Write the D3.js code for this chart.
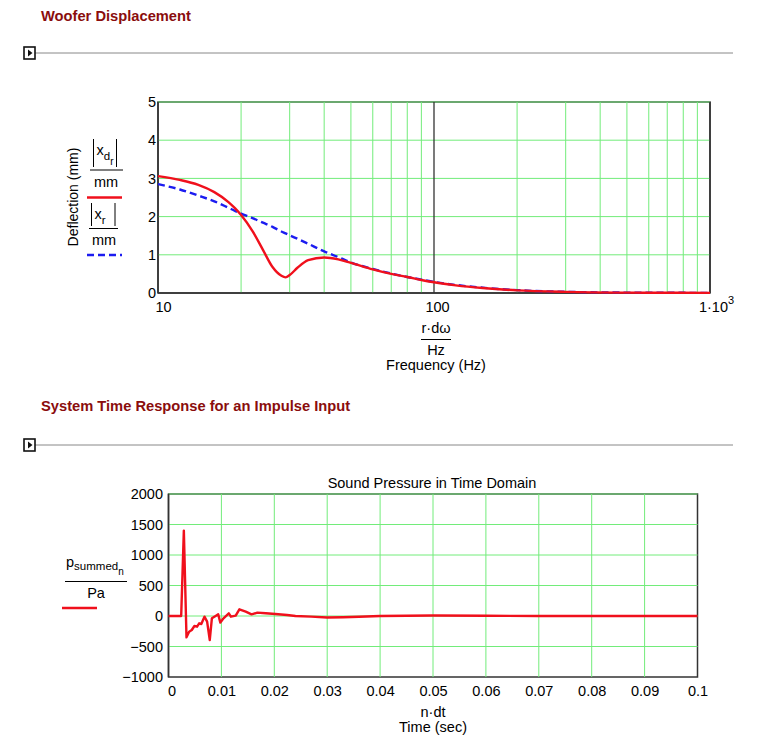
<!DOCTYPE html>
<html><head><meta charset="utf-8">
<script src="https://cdn.jsdelivr.net/npm/d3@7"></script>
<style>
body{margin:0;background:#fff;}
svg{display:block;font-family:"Liberation Sans",Arial,Helvetica,sans-serif;}
</style></head>
<body><svg id="c" width="773" height="750"></svg>
<script>
// ---------- data ----------
const freqHz = [10,12,14,16,18,19,20,22,24,26,28,29,30,32,35,40,45,50,60,70,80,90,100,120,150,200,300,500,700,1000];
const xdMag  = [3.06,2.96,2.83,2.64,2.38,2.22,2.04,1.62,1.13,0.68,0.45,0.41,0.47,0.66,0.86,0.93,0.88,0.79,0.62,0.5,0.42,0.34,0.28,0.2,0.13,0.07,0.03,0.01,0.006,0.003];
const xrMag  = [2.85,2.71,2.55,2.4,2.23,2.15,2.08,1.96,1.84,1.73,1.61,1.56,1.51,1.42,1.29,1.09,0.94,0.8,0.63,0.51,0.42,0.35,0.29,0.21,0.14,0.075,0.03,0.01,0.006,0.003];
const freqTicks = [10,100,1000];
const deflTicks = [0,1,2,3,4,5];

const timeSec = [0,0.0024,0.0029,0.0034,0.0039,0.0044,0.0049,0.0054,0.0058,0.0062,0.0068,0.0073,0.0078,0.0082,0.0089,0.0094,0.0098,0.0104,0.0114,0.0118,0.0127,0.0134,0.0146,0.0157,0.0168,0.0184,0.0202,0.0224,0.024,0.027,0.03,0.033,0.036,0.04,0.045,0.05,0.06,0.07,0.08,0.09,0.1];
const pressure = [0,0,1400,-350,-257,-230,-164,-175,-120,-131,-11,-93,-394,-38,0,27,-109,-38,44,-11,5,110,71,27,55,44,33,16,0,-11,-25,-20,-12,0,5,8,3,0,0,0,0];
const timeTicks = [0,0.01,0.02,0.03,0.04,0.05,0.06,0.07,0.08,0.09,0.1];
const pressTicks = [-1000,-500,0,500,1000,1500,2000];

// ---------- helpers ----------
const svg = d3.select("#c");
const GRID = "#72ec7a", FRAME = "#333", TITLE = "#8a0d0d";
const FS = 14.5;
const FF = "Liberation Sans, Arial, sans-serif";

function header(y, text, ty){
  svg.append("text").attr("x",41).attr("y",ty).attr("fill",TITLE)
     .attr("font-weight","bold").attr("font-size",14.7).text(text);
  svg.append("line").attr("x1",35).attr("x2",733).attr("y1",y).attr("y2",y)
     .attr("stroke","#888").attr("stroke-width",1);
  svg.append("rect").attr("x",24).attr("y",y-6).attr("width",11).attr("height",12)
     .attr("fill","#fff").attr("stroke","#111").attr("stroke-width",1.6);
  svg.append("path").attr("d",`M28,${y-3.5} L32.5,${y} L28,${y+3.5} Z`).attr("fill","#111");
}
header(53, "Woofer Displacement", 21);
header(445, "System Time Response for an Impulse Input", 411);

// ---------- top chart ----------
const x1 = d3.scaleLog().domain([10,1000]).range([158,710]);
const y1 = d3.scaleLinear().domain([0,5]).range([293,102]);
const g1 = svg.append("g");
g1.append("rect").attr("x",158).attr("y",102).attr("width",552).attr("height",191)
  .attr("fill","none").attr("stroke",FRAME).attr("stroke-width",1.5);
const minor = [];
[10,100].forEach(d=>{for(let k=2;k<=9;k++) minor.push(d*k);});
g1.selectAll(".vg").data(minor).join("line")
  .attr("x1",d=>x1(d)).attr("x2",d=>x1(d)).attr("y1",102).attr("y2",293)
  .attr("stroke",GRID).attr("stroke-width",1);
g1.selectAll(".hg").data(deflTicks.filter(d=>d>0)).join("line")
  .attr("x1",158).attr("x2",710).attr("y1",d=>y1(d)).attr("y2",d=>y1(d))
  .attr("stroke",GRID).attr("stroke-width",1);
g1.append("line").attr("x1",x1(100)).attr("x2",x1(100)).attr("y1",102).attr("y2",293)
  .attr("stroke",FRAME).attr("stroke-width",1.3);
g1.append("line").attr("x1",158).attr("x2",158).attr("y1",102).attr("y2",293).attr("stroke",FRAME).attr("stroke-width",1.5);
g1.append("line").attr("x1",158).attr("x2",710).attr("y1",293).attr("y2",293).attr("stroke",FRAME).attr("stroke-width",1.5);
g1.append("line").attr("x1",710).attr("x2",710).attr("y1",102).attr("y2",293).attr("stroke",FRAME).attr("stroke-width",1.5);

const ax1 = g1.append("g").attr("transform","translate(156,0)")
  .call(d3.axisLeft(y1).tickValues(deflTicks).tickSize(0).tickPadding(0).tickFormat(d3.format("d")));
ax1.select(".domain").remove();
ax1.selectAll("text").attr("font-size",FS).attr("fill","#000").attr("font-family",FF);
const bx1 = g1.append("g").attr("transform","translate(0,298)")
  .call(d3.axisBottom(x1).tickValues(freqTicks).tickSize(0).tickPadding(0).tickFormat(()=>""));
bx1.select(".domain").remove();
bx1.selectAll(".tick text").each(function(d){
  const t = d3.select(this).attr("font-size",FS).attr("fill","#000").attr("font-family",FF).attr("dy","0.95em");
  if(d===1000){
    t.attr("text-anchor","middle").attr("dx","6");
    t.append("tspan").text("1\u00b710");
    t.append("tspan").attr("font-size",11).attr("dy","-0.75em").text("3");
  } else {
    t.text(d);
    if(d===100) t.attr("dx","3");
    if(d===10) t.attr("dx","5");
  }
});

const line1 = d3.line().x((d,i)=>x1(freqHz[i])).y(d=>y1(d)).curve(d3.curveMonotoneX);
g1.append("path").attr("d",line1(xrMag)).attr("fill","none").attr("stroke","#1c1cf0")
  .attr("stroke-width",2.4).attr("stroke-dasharray","7,4");
g1.append("path").attr("d",line1(xdMag)).attr("fill","none").attr("stroke","#f0101c")
  .attr("stroke-width",2.4);

// x label
const xl = svg.append("g").attr("font-size",FS).attr("text-anchor","middle");
xl.append("text").attr("x",436).attr("y",333).text("r\u00b7d\u03c9");
xl.append("line").attr("x1",421).attr("x2",451).attr("y1",339.5).attr("y2",339.5).attr("stroke","#000").attr("stroke-width",1);
xl.append("text").attr("x",436).attr("y",355).text("Hz");
xl.append("text").attr("x",436).attr("y",370).text("Frequency (Hz)");

// y label
svg.append("text").attr("transform","translate(78,197) rotate(-90)").attr("text-anchor","middle")
  .attr("font-size",14).text("Deflection (mm)");
const yl = svg.append("g").attr("font-size",FS);
function absVar(x0, ytop, ybot, subs, xr){
  yl.append("line").attr("x1",x0).attr("x2",x0).attr("y1",ytop).attr("y2",ybot).attr("stroke","#000").attr("stroke-width",1);
  const t = yl.append("text").attr("x",x0+3).attr("y",ytop+16);
  t.append("tspan").text("x");
  subs.forEach((s,i)=>{
    t.append("tspan").attr("font-size",11.5-i*1.5).attr("dy",5).text(s);
  });
  yl.append("line").attr("x1",xr).attr("x2",xr).attr("y1",ytop).attr("y2",ybot).attr("stroke","#000").attr("stroke-width",1);
}
absVar(93.5, 139, 167, ["d","r"], 116.5);
yl.append("line").attr("x1",90).attr("x2",123).attr("y1",170).attr("y2",170).attr("stroke","#000").attr("stroke-width",1);
yl.append("text").attr("x",106).attr("y",187).attr("text-anchor","middle").text("mm");
yl.append("line").attr("x1",87).attr("x2",122).attr("y1",197.5).attr("y2",197.5).attr("stroke","#f0101c").attr("stroke-width",2.4);
absVar(91.5, 203, 226, ["r"], 115);
yl.append("line").attr("x1",89).attr("x2",118).attr("y1",228.5).attr("y2",228.5).attr("stroke","#000").attr("stroke-width",1);
yl.append("text").attr("x",104).attr("y",244.5).attr("text-anchor","middle").text("mm");
yl.append("line").attr("x1",87).attr("x2",122).attr("y1",255).attr("y2",255).attr("stroke","#1c1cf0").attr("stroke-width",2.4).attr("stroke-dasharray","7,4");

// ---------- bottom chart ----------
const x2 = d3.scaleLinear().domain([0,0.1]).range([168.5,697.5]);
const y2 = d3.scaleLinear().domain([-1000,2000]).range([677,494]);
const g2 = svg.append("g");
g2.append("rect").attr("x",168.5).attr("y",494).attr("width",529).attr("height",183)
  .attr("fill","none").attr("stroke",FRAME).attr("stroke-width",1.5);
g2.selectAll(".vg").data(timeTicks.filter(d=>d>0 && d<0.1)).join("line")
  .attr("x1",d=>x2(d)).attr("x2",d=>x2(d)).attr("y1",494).attr("y2",677)
  .attr("stroke",GRID).attr("stroke-width",1);
g2.selectAll(".hg").data(pressTicks.filter(d=>d>-1000)).join("line")
  .attr("x1",168.5).attr("x2",697.5).attr("y1",d=>y2(d)).attr("y2",d=>y2(d))
  .attr("stroke",GRID).attr("stroke-width",1);
g2.append("line").attr("x1",168.5).attr("x2",168.5).attr("y1",494).attr("y2",677).attr("stroke",FRAME).attr("stroke-width",1.5);

const ax2 = g2.append("g").attr("transform","translate(163,0)")
  .call(d3.axisLeft(y2).tickValues(pressTicks).tickSize(0).tickPadding(0)
  .tickFormat(d=> d<0 ? "\u2212"+Math.abs(d) : String(d)));
ax2.select(".domain").remove();
ax2.selectAll("text").attr("font-size",FS).attr("fill","#000").attr("font-family",FF);
const bx2 = g2.append("g").attr("transform","translate(0,682)")
  .call(d3.axisBottom(x2).tickValues(timeTicks).tickSize(0).tickPadding(0)
  .tickFormat(d=> d===0 ? "0" : d3.format(".2~f")(d)));
bx2.select(".domain").remove();
bx2.selectAll("text").attr("font-size",FS).attr("fill","#000").attr("dy","0.95em").attr("font-family",FF);
bx2.selectAll(".tick").filter(d=>d===0).select("text").attr("dx","3");

const line2 = d3.line().x((d,i)=>x2(timeSec[i])).y(d=>y2(d));
g2.append("path").attr("d",line2(pressure)).attr("fill","none").attr("stroke","#f0101c")
  .attr("stroke-width",2.4).attr("stroke-linejoin","round");

svg.append("text").attr("x",432).attr("y",488).attr("text-anchor","middle").attr("font-size",FS)
  .text("Sound Pressure in Time Domain");
svg.append("text").attr("x",433).attr("y",717).attr("text-anchor","middle").attr("font-size",FS).text("n\u00b7dt");
svg.append("text").attr("x",433).attr("y",732).attr("text-anchor","middle").attr("font-size",FS).text("Time (sec)");

const pl = svg.append("text").attr("x",66).attr("y",567).attr("font-size",FS);
pl.append("tspan").text("p");
pl.append("tspan").attr("font-size",11.5).attr("dy",3).text("summed");
pl.append("tspan").attr("font-size",10).attr("dy",5).text("n");
svg.append("line").attr("x1",65).attr("x2",127).attr("y1",581.5).attr("y2",581.5).attr("stroke","#000").attr("stroke-width",1);
svg.append("text").attr("x",96).attr("y",598).attr("text-anchor","middle").attr("font-size",FS).text("Pa");
svg.append("line").attr("x1",62).attr("x2",97).attr("y1",608).attr("y2",608).attr("stroke","#f0101c").attr("stroke-width",2.4);
</script></body></html>
